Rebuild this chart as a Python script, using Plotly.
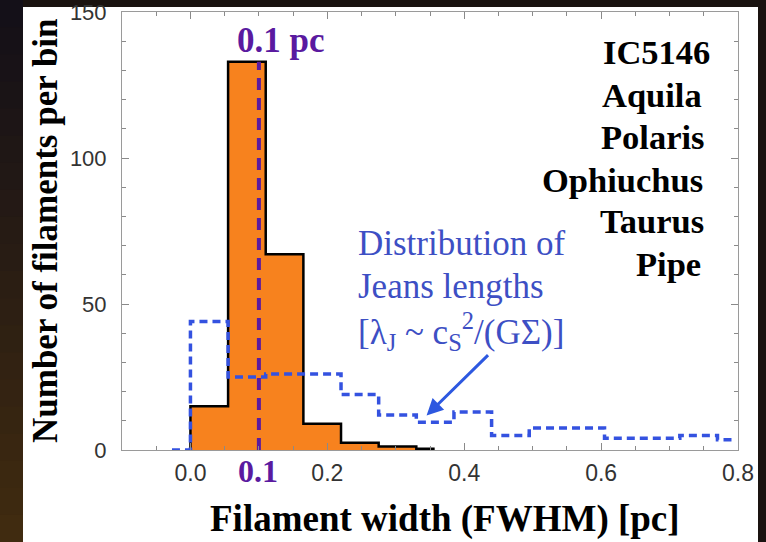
import plotly.graph_objects as go

# ---------------- data ----------------
filament_edges = [0.0, 0.055, 0.11, 0.165, 0.22, 0.275, 0.33, 0.355]
filament_counts = [15, 133, 67, 9, 2.5, 1.2, 0.4]

jeans_start = -0.027
jeans_edges = [0.0, 0.055, 0.11, 0.165, 0.22, 0.275, 0.33, 0.385, 0.44,
               0.495, 0.55, 0.605, 0.66, 0.715, 0.77, 0.797]
jeans_counts = [44, 25, 26, 26, 19, 12, 9.5, 13, 5, 7.5, 7.5, 4, 4, 5, 3.5]

peak_width = 0.1
peak_count = 133

x_tickvals = [0.0, 0.2, 0.4, 0.6, 0.8]
x_ticktext = ["0.0", "0.2", "0.4", "0.6", "0.8"]
y_tickvals = [0, 50, 100, 150]

regions = ["IC5146", "Aquila", "Polaris", "Ophiuchus", "Taurus", "Pipe"]

# ---------------- geometry helpers ----------------
W, H = 766, 542
ML, MR, MT, MB = 122, 28, 12, 92
PW, PH = W - ML - MR, H - MT - MB


def px(x):
    return (x - ML) / PW


def py(y):
    return (H - MB - y) / PH


SERIF = "Liberation Serif"
SANS = "Liberation Sans"
PURPLE = "#5a1aa0"
BLUE = "#3452e0"

# step outline for filament histogram
fx = [filament_edges[0]]
fy = [0]
for i, v in enumerate(filament_counts):
    fx += [filament_edges[i], filament_edges[i + 1]]
    fy += [v, v]
fx.append(filament_edges[-1])
fy.append(0)

# step outline for jeans-length distribution
jx = [jeans_start, jeans_edges[0]]
jy = [0, 0]
for i, v in enumerate(jeans_counts):
    jx += [jeans_edges[i], jeans_edges[i + 1]]
    jy += [v, v]

fig = go.Figure()

fig.add_trace(go.Scatter(
    x=fx, y=fy, mode="lines", fill="tozeroy", fillcolor="#f7821e",
    line=dict(color="black", width=2.5), hoverinfo="skip", showlegend=False))

fig.add_trace(go.Scatter(
    x=jx, y=jy, mode="lines",
    line=dict(color=BLUE, width=3.5, dash="8px,5px"),
    hoverinfo="skip", showlegend=False))

fig.add_trace(go.Scatter(
    x=[peak_width, peak_width], y=[0, peak_count], mode="lines",
    line=dict(color=PURPLE, width=4, dash="12px,8px"),
    hoverinfo="skip", showlegend=False))

shapes = []
# white panel
shapes.append(dict(type="rect", xref="paper", yref="paper",
                   x0=px(23), x1=px(758), y0=py(542), y1=py(7),
                   fillcolor="white", line=dict(width=0), layer="below"))
# left dark gradient strip
n = 20
for i in range(n):
    t = i / (n - 1)
    r = int(0x14 + t * (0x40 - 0x14))
    g = int(0x10 + t * (0x2b - 0x10))
    b = int(0x18 + t * (0x10 - 0x18))
    y0 = i * H / n
    shapes.append(dict(type="rect", xref="paper", yref="paper",
                       x0=px(0), x1=px(23), y0=py(y0 + H / n + 1), y1=py(y0),
                       fillcolor=f"rgb({r},{g},{b})", line=dict(width=0),
                       layer="below"))


def note(text, x, y, size, color, family=SERIF, xanchor="center", **kw):
    return dict(xref="paper", yref="paper", x=px(x), y=py(y), text=text,
                showarrow=False, xanchor=xanchor, yanchor="middle",
                font=dict(family=family, size=size, color=color), **kw)


annotations = []
annotations.append(note("<b>0.1 pc</b>", 281, 41, 35, PURPLE))
annotations.append(note("<b>0.1</b>", 258, 471, 32, PURPLE))

region_pos = [(712, 52), (704, 95), (706, 137), (705, 180), (706, 221), (703, 264)]
for name, (xx, yy) in zip(regions, region_pos):
    annotations.append(note(f"<b>{name}</b>", xx, yy, 34.5, "black",
                            xanchor="right"))

blue_lines = ["Distribution of", "Jeans lengths",
              "[λ<sub>J</sub> ~ c<sub>S</sub><sup>2</sup>/(GΣ)]"]
for txt, yy in zip(blue_lines, [243, 286, 331]):
    annotations.append(note(txt, 356, yy, 35, "#3d4fc4", xanchor="left"))

annotations.append(dict(xref="x", yref="y", x=0.345, y=11.8,
                        axref="x", ayref="y", ax=0.437, ay=33,
                        showarrow=True, arrowhead=2, arrowsize=1.1,
                        arrowwidth=3, arrowcolor="#2d58e0", text=""))

annotations.append(note("<b>Number of filaments per bin</b>", 45, 231, 35,
                        "black", textangle=-90))
annotations.append(note("<b>Filament width (FWHM) [pc]</b>", 445, 519, 37,
                        "black"))

axis_common = dict(showgrid=False, zeroline=False, showline=True,
                   linecolor="#9a9a9a", linewidth=1, mirror="ticks",
                   ticks="inside", ticklen=7, tickcolor="#8a8a8a",
                   tickwidth=1, automargin=False, ticklabeloverflow="allow")

fig.update_layout(
    width=W, height=H,
    margin=dict(l=ML, r=MR, t=MT, b=MB, autoexpand=False),
    paper_bgcolor="#1a1310", plot_bgcolor="white",
    shapes=shapes, annotations=annotations,
    xaxis=dict(range=[-0.1, 0.8], tickvals=x_tickvals, ticktext=x_ticktext,
               tickfont=dict(family=SANS, size=23, color="#333333"),
               minor=dict(dtick=0.05, tick0=0, ticks="inside", ticklen=4,
                          tickcolor="#8a8a8a"),
               ticklabelstandoff=2, **axis_common),
    yaxis=dict(range=[0, 150], tickvals=y_tickvals,
               tickfont=dict(family=SANS, size=22, color="#333333"),
               minor=dict(dtick=10, tick0=0, ticks="inside", ticklen=4,
                          tickcolor="#8a8a8a"),
               ticklabelstandoff=10, **axis_common),
)

fig.write_html("out.html")
